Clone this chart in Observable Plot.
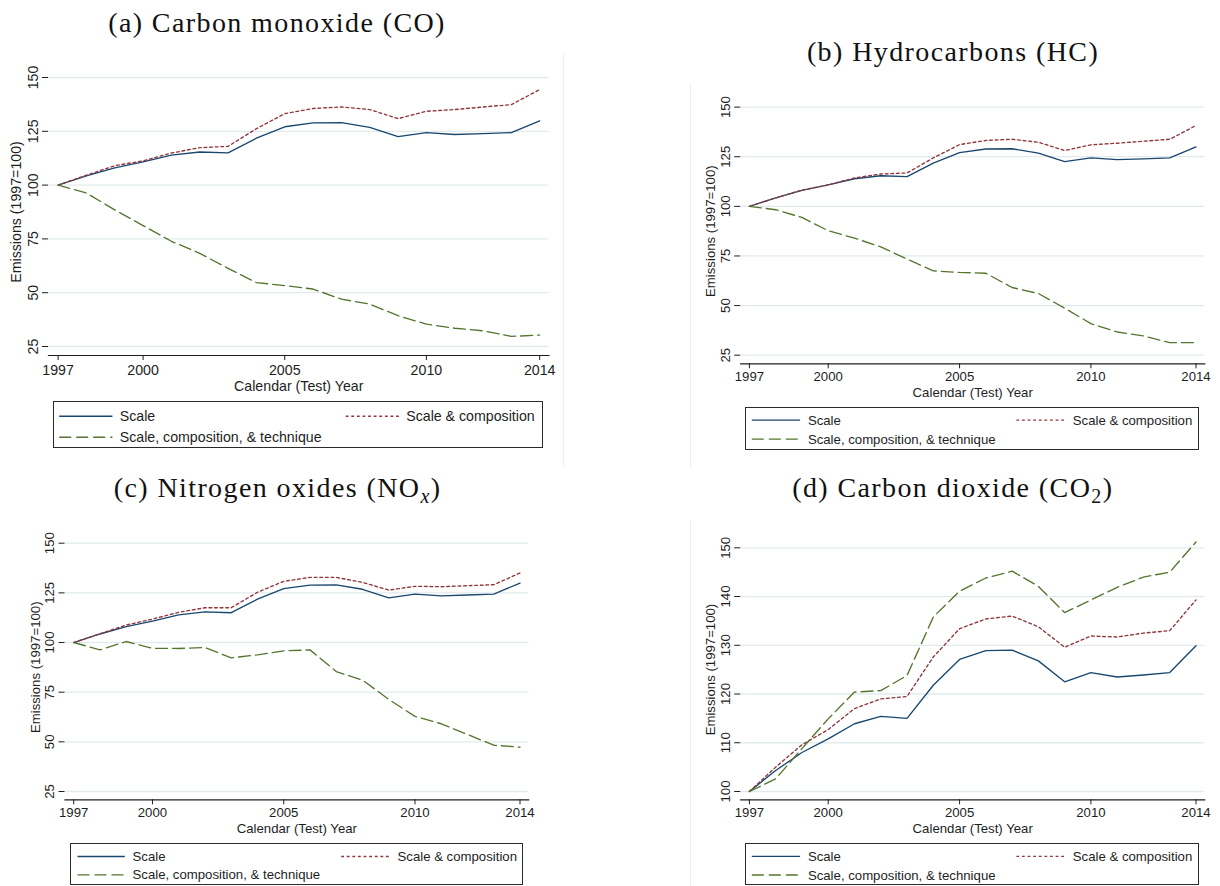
<!DOCTYPE html>
<html><head><meta charset="utf-8">
<script src="https://cdn.jsdelivr.net/npm/d3@7"></script>
<script src="https://cdn.jsdelivr.net/npm/@observablehq/plot@0.6"></script>
<style>
body{margin:0;background:#fff;}
#root{position:relative;width:1220px;height:886px;overflow:hidden;background:#fff;font-family:"Liberation Sans",Arial,Helvetica,sans-serif;}
.panel{position:absolute;}
.panel svg{overflow:visible;display:block;}
.legend{position:absolute;box-sizing:border-box;border:1px solid #2a2a2a;background:#fff;}
.legend svg{position:absolute;left:0;top:0;overflow:visible;}
.vline{position:absolute;width:1px;background:#efefef;}
#titles{position:absolute;left:0;top:0;pointer-events:none;}
</style></head><body><div id="root"></div>
<script>
// ---------------- data ----------------
const years = [1997,1998,1999,2000,2001,2002,2003,2004,2005,2006,2007,2008,2009,2010,2011,2012,2013,2014];
const xTicks = [1997,2000,2005,2010,2014];
const pollutantTicks = [25,50,75,100,125,150];
const co2Ticks = [100,110,120,130,140,150];
const seriesNames = ["Scale","Scale & composition","Scale, composition, & technique"];
const xTitle = "Calendar (Test) Year";
const yTitle = "Emissions (1997=100)";

const scaleIndex = [100,104.3,108.0,110.8,113.9,115.4,115.0,121.8,127.1,128.9,129.0,126.8,122.5,124.4,123.5,123.9,124.4,129.9];

const coComposition = [100,104.6,109.0,111.3,114.9,117.4,118.0,126.2,133.2,135.6,136.3,135.1,130.9,134.3,135.1,136.3,137.4,144.4];
const coTechnique   = [100,96.3,88.5,81.2,73.9,68.3,61.3,54.7,53.3,51.7,47.0,44.7,39.3,35.4,33.5,32.3,29.7,30.3];

const hcComposition = [100,104.2,108.2,110.8,114.3,116.3,116.8,124.4,131.1,133.2,133.8,132.3,128.1,131.0,131.8,132.8,133.8,140.7];
const hcTechnique   = [100,98.3,94.4,87.7,84.0,79.6,73.4,67.5,66.7,66.3,59.1,56.1,48.7,40.9,36.7,34.7,31.3,31.3];

const noxComposition = [100,104.4,108.8,111.8,115.2,117.5,117.5,125.3,130.8,132.8,132.8,130.3,126.4,128.3,128.1,128.6,129.1,135.0];
const noxTechnique   = [100,96.3,100.5,97.1,97.0,97.5,92.3,93.8,95.8,96.3,85.4,81.1,71.4,62.8,59.1,53.7,48.3,47.3];

const co2Composition = [100,105.0,109.6,112.7,117.0,119.0,119.5,127.6,133.4,135.4,136.0,133.8,129.6,131.9,131.7,132.5,133.0,139.3];
const co2Technique   = [100,102.6,108.8,114.9,120.4,120.7,123.8,135.8,141.1,143.8,145.2,142.1,136.7,139.3,141.9,144.0,145.0,151.2];

// title pieces: [text, isSubscript, isItalic]
const titleA = [["(a) Carbon monoxide (CO)",false,false]];
const titleB = [["(b) Hydrocarbons (HC)",false,false]];
const titleC = [["(c) Nitrogen oxides (NO",false,false],["x",true,true],[")",false,false]];
const titleD = [["(d) Carbon dioxide (CO",false,false],["2",true,false],[")",false,false]];

// ---------------- styles ----------------
const ink = "#1e1e1e";
const gridColor = "#e1ebee";
const lineColors = ["#1a476f","#90353b","#55752f"];
const dashes = [null,"2.8,2.8","12,5"];
const fontFam = "'Liberation Sans', Arial, Helvetica, sans-serif";

const panels = [
  {series:[scaleIndex,coComposition,coTechnique], ticks:pollutantTicks, title:titleA, tx:277, ty:32,
   left:0, top:40, width:560, height:360, mL:48, mR:11.5, mT:28, mB:45,
   inL:9.6, inR:9.3, inT:9, inB:9, fs:14.2, yTick:6, yPad:4.7, yLab:-32.4, xPad:4, xTit:25,
   leg:{left:53.3, top:401, width:489.4, height:47, rows:[14.2,35.2], c1:[5.2,58.4,65.7], c2:[291.7,345,352.2]},
   vline:{x:563, y0:53, y1:467}},
  {series:[scaleIndex,hcComposition,hcTechnique], ticks:pollutantTicks, title:titleB, tx:953, ty:60.5,
   left:690, top:80, width:530, height:320, mL:50.2, mR:15.8, mT:18, mB:36.7,
   inL:8.7, inR:8.7, inT:8.6, inB:8.6, fs:13.2, yTick:6, yPad:4.4, yLab:-29.8, xPad:3, xTit:23.5,
   leg:{left:745.4, top:406.7, width:454, height:43.3, rows:[12.1,31.1], c1:[5.8,54.1,61.9], c2:[270.4,319,326.8]},
   vline:{x:689.5, y0:83, y1:468}},
  {series:[scaleIndex,noxComposition,noxTechnique], ticks:pollutantTicks, title:titleC, tx:277.6, ty:496.7,
   left:0, top:520, width:560, height:320, mL:64.5, mR:31.8, mT:14.2, mB:40.7,
   inL:8.7, inR:8.7, inT:8.5, inB:8.3, fs:13.2, yTick:6, yPad:5, yLab:-29.5, xPad:3, xTit:23.5,
   leg:{left:69.5, top:842.8, width:453.8, height:42.2, rows:[12.5,30.8], c1:[6.5,53.8,61.5], c2:[270.2,319.5,326.5]},
   vline:null},
  {series:[scaleIndex,co2Composition,co2Technique], ticks:co2Ticks, title:titleD, tx:952.8, ty:496.7,
   left:690, top:520, width:530, height:320, mL:50.2, mR:15.8, mT:18.8, mB:40.7,
   inL:8.7, inR:8.7, inT:8.5, inB:8.3, fs:13.2, yTick:6, yPad:4.4, yLab:-29.8, xPad:3, xTit:23.5,
   leg:{left:745.4, top:842.8, width:454, height:42.2, rows:[12.4,31.0], c1:[5.8,54.1,61.9], c2:[270.4,319,326.8]},
   vline:{x:689.5, y0:520, y1:886}}
];

const root = document.getElementById("root");

function makePanel(cfg) {
  const rows = [];
  cfg.series.forEach((vals, j) => vals.forEach((v, i) => rows.push({year: years[i], value: v, series: seriesNames[j]})));
  const t = cfg.ticks;
  const chart = Plot.plot({
    width: cfg.width, height: cfg.height,
    marginLeft: cfg.mL, marginRight: cfg.mR, marginTop: cfg.mT, marginBottom: cfg.mB,
    x: {type: "linear", domain: [years[0], years[years.length - 1]], insetLeft: cfg.inL, insetRight: cfg.inR},
    y: {type: "linear", domain: [t[0], t[t.length - 1]], insetTop: cfg.inT, insetBottom: cfg.inB},
    style: {fontFamily: fontFam, fontSize: cfg.fs + "px", color: ink, background: "transparent", overflow: "visible"},
    marks: [
      Plot.gridY(t, {stroke: gridColor, strokeOpacity: 1, strokeWidth: 1.3}),
      Plot.axisY(t, {anchor: "left", tickSize: cfg.yTick, tickPadding: cfg.yPad, tickRotate: -90,
        textAnchor: "middle", lineAnchor: "bottom", tickFormat: d => String(d), label: null, color: ink, fontVariant: "normal"}),
      Plot.axisX(xTicks, {anchor: "bottom", tickSize: 5, tickPadding: cfg.xPad, tickFormat: d => String(d),
        label: null, color: ink, fontVariant: "normal"}),
      Plot.frame({anchor: "bottom", stroke: ink, strokeWidth: 1.2}),
      Plot.text([yTitle], {text: d => d, frameAnchor: "left", dx: cfg.yLab, rotate: -90,
        textAnchor: "middle", lineAnchor: "middle", fill: ink}),
      Plot.text([xTitle], {text: d => d, frameAnchor: "bottom", dy: cfg.xTit,
        textAnchor: "middle", lineAnchor: "top", fill: ink}),
      ...seriesNames.map((name, j) => Plot.line(rows.filter(r => r.series === name), {
        x: "year", y: "value", stroke: lineColors[j], strokeWidth: 1.35,
        strokeDasharray: dashes[j] || undefined, strokeLinejoin: "round"
      }))
    ]
  });
  const div = document.createElement("div");
  div.className = "panel";
  div.style.left = cfg.left + "px";
  div.style.top = cfg.top + "px";
  div.appendChild(chart);
  root.appendChild(div);

  // legend
  const L = cfg.leg;
  const lg = d3.select(root).append("div").attr("class", "legend")
    .style("left", L.left + "px").style("top", L.top + "px")
    .style("width", L.width + "px").style("height", L.height + "px");
  const svg = lg.append("svg").attr("width", L.width).attr("height", L.height)
    .style("font-family", fontFam).style("font-size", cfg.fs + "px");
  const slots = [[L.c1, L.rows[0]], [L.c2, L.rows[0]], [L.c1, L.rows[1]]];
  seriesNames.forEach((name, j) => {
    const [c, y] = slots[j];
    svg.append("line").attr("x1", c[0]).attr("x2", c[1]).attr("y1", y).attr("y2", y)
      .attr("stroke", lineColors[j]).attr("stroke-width", 1.35)
      .attr("stroke-dasharray", dashes[j]);
    svg.append("text").attr("x", c[2]).attr("y", y).attr("dy", "0.35em").attr("fill", ink).text(name);
  });

  if (cfg.vline) {
    const v = document.createElement("div");
    v.className = "vline";
    v.style.left = cfg.vline.x + "px";
    v.style.top = cfg.vline.y0 + "px";
    v.style.height = (cfg.vline.y1 - cfg.vline.y0) + "px";
    root.appendChild(v);
  }
}

panels.forEach(makePanel);

// titles
const tsvg = d3.select(root).append("svg").attr("id", "titles").attr("width", 1220).attr("height", 886);
panels.forEach(cfg => {
  const txt = tsvg.append("text").attr("x", cfg.tx).attr("y", cfg.ty).attr("text-anchor", "middle")
    .attr("fill", "#111").style("font-family", "'Liberation Serif', 'Times New Roman', serif")
    .style("font-size", "28px").style("letter-spacing", "1.4px");
  cfg.title.forEach(([s, sub, ital]) => {
    const ts = txt.append("tspan").text(s);
    if (sub) {
      ts.attr("dy", 6).style("font-size", "20px");
      if (ital) ts.style("font-style", "italic");
    } else if (txt.selectAll("tspan").size() > 1) {
      ts.attr("dy", -6);
    }
  });
});
</script></body></html>
